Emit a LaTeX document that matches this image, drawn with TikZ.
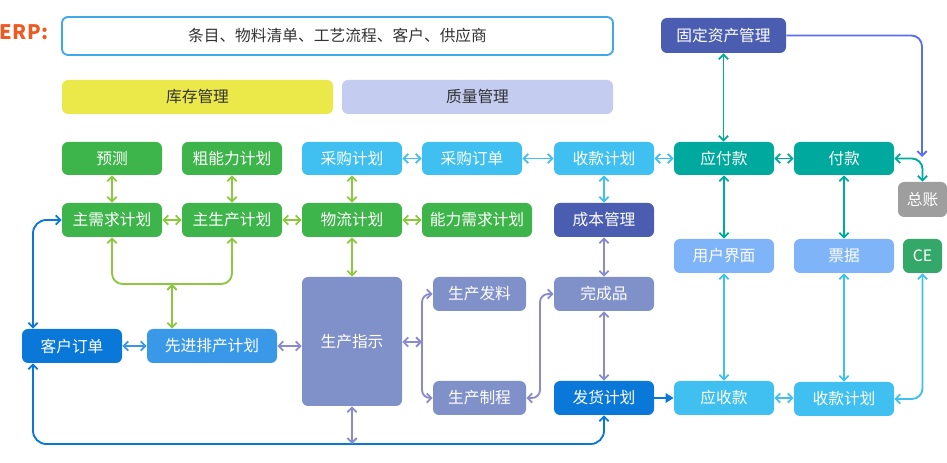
\documentclass[tikz,border=0pt]{standalone}
\usepackage{fontspec}
\setmainfont{Noto Sans CJK SC}
\usetikzlibrary{arrows.meta,calc}
\definecolor{cgreen}{HTML}{3DB54A}
\definecolor{cgreenA}{HTML}{8DC63F}
\definecolor{clblue}{HTML}{3FC0F0}
\definecolor{cteal}{HTML}{00A99D}
\definecolor{cdblue}{HTML}{4A5DB0}
\definecolor{csky}{HTML}{80B4F8}
\definecolor{cce}{HTML}{34A868}
\definecolor{cgray}{HTML}{9E9E9E}
\definecolor{cblue}{HTML}{0A78D8}
\definecolor{cmid}{HTML}{3A98E8}
\definecolor{cpurp}{HTML}{8090C8}
\definecolor{cpurpA}{HTML}{8A8ACC}
\definecolor{cyel}{HTML}{EBE84A}
\definecolor{clav}{HTML}{C4CDF0}
\definecolor{cborder}{HTML}{40A8E8}
\definecolor{cerp}{HTML}{F05A22}
\definecolor{cline}{HTML}{5A6EF0}
\definecolor{ctxt}{HTML}{333333}
\newcommand\bx[7]{\node[box,#6,minimum width={(#4-#2)*0.75pt},minimum height={(#5-#3)*0.75pt}] (#1) at ({(#2+#4)/2},{(#3+#5)/2}) {#7};}
\begin{document}
\begin{tikzpicture}[x=0.75pt,y=-0.75pt,
  box/.style={rounded corners=4.5pt,inner sep=0pt,text=white,font=\fontsize{11.8pt}{13pt}\selectfont},
  con/.style={line width=1.4pt,{Straight Barb[length=3.5pt,width=7pt]}-{Straight Barb[length=3.5pt,width=7pt]}},
  ga/.style={con,draw=cgreenA},
  lba/.style={con,draw=clblue},
  ta/.style={con,draw=cteal},
  pa/.style={con,draw=cpurpA},
  ba/.style={con,draw=cmid},
  bla/.style={con,draw=cblue},
]
\useasboundingbox (0,0) rectangle (947,463);
% header
\node[anchor=west,text=cerp,font=\bfseries\fontsize{15pt}{16pt}\selectfont,inner sep=0pt] (erp) at (-1,32) {E\kern0.6pt R\kern0.6pt P:};
\bx{top}{62}{17}{613}{55}{draw=cborder,line width=1.4pt,fill=white,text=ctxt}{条目、物料清单、工艺流程、客户、供应商}
\bx{kc}{62}{80}{333}{114}{fill=cyel,text=ctxt}{库存管理}
\bx{zl}{342}{80}{613}{114}{fill=clav,text=ctxt}{质量管理}
% row 1
\bx{yc}{62}{142}{162}{175}{fill=cgreen}{预测}
\bx{cnl}{182}{142}{282}{175}{fill=cgreen}{粗能力计划}
\bx{cg}{302}{142}{402}{175}{fill=clblue}{采购计划}
\bx{cd}{422}{142}{522}{175}{fill=clblue}{采购订单}
\bx{skjh}{554}{142}{654}{175}{fill=clblue}{收款计划}
\bx{yf}{674}{142}{774}{175}{fill=cteal}{应付款}
\bx{fk}{794}{142}{894}{175}{fill=cteal}{付款}
\bx{gd}{661}{18}{786}{53}{fill=cdblue}{固定资产管理}
\bx{zz}{898}{182}{947}{217}{fill=cgray}{总账}
% row 2
\bx{mdp}{62}{203}{162}{237}{fill=cgreen}{主需求计划}
\bx{mps}{182}{203}{282}{237}{fill=cgreen}{主生产计划}
\bx{wl}{302}{203}{402}{237}{fill=cgreen}{物流计划}
\bx{nl}{422}{203}{532}{237}{fill=cgreen}{能力需求计划}
\bx{cb}{554}{203}{654}{237}{fill=cdblue}{成本管理}
% row 3
\bx{yh}{674}{239}{774}{273}{fill=csky}{用户界面}
\bx{pj}{794}{239}{894}{273}{fill=csky}{票据}
\bx{ce}{903}{239}{942}{273}{fill=cce}{CE}
% lower
\bx{kd}{22}{329}{122}{363}{fill=cblue}{客户订单}
\bx{xj}{147}{329}{277}{363}{fill=cmid}{先进排产计划}
\bx{zs}{302}{277}{402}{406}{fill=cpurp}{生产指示}
\bx{fl}{433}{277}{526}{311}{fill=cpurp}{生产发料}
\bx{zc}{433}{381}{526}{415}{fill=cpurp}{生产制程}
\bx{wc}{554}{277}{654}{311}{fill=cpurp}{完成品}
\bx{fh}{554}{381}{654}{415}{fill=cblue}{发货计划}
\bx{ys}{674}{381}{774}{415}{fill=clblue}{应收款}
\bx{sk2}{794}{382}{894}{416}{fill=clblue}{收款计划}
% coordinates
\coordinate (j) at (172,284);
\coordinate (br) at (422,342);
\coordinate (m) at (540,340);
\coordinate (lt) at (33,444);
\coordinate (zt) at (922,157);
% green connectors
\draw[ga] (yc.south) -- (mdp.north);
\draw[ga] (cnl.south) -- (mps.north);
\draw[ga] (mdp.east) -- (mps.west);
\draw[ga] (mps.east) -- (wl.west);
\draw[ga] (cg.south) -- (wl.north);
\draw[ga] (wl.east) -- (nl.west);
\draw[ga] (wl.south) -- (zs.north);
\draw[ga,rounded corners=8pt] (mdp.south) |- (j) -| (mps.south);
\draw[ga] (j) -- (j |- xj.north);
% left lower
\draw[ba] (kd.east) -- (xj.west);
\draw[pa] (xj.east) -- (xj.east -| zs.west);
\draw[pa] (zs.east |- br) -- (br);
\draw[pa,rounded corners=6pt] (fl.west) -| (br) |- (zc.west);
\draw[pa,rounded corners=6pt] (zc.east) -| (m) |- (wc.west);
% column 604
\draw[lba] (skjh.south) -- (cb.north);
\draw[pa] (cb.south) -- (wc.north);
\draw[pa] (wc.south) -- (fh.north);
\draw[line width=1.4pt,draw=cblue,-{Triangle[length=6pt,width=7pt]}] (fh.east) -- (ys.west);
\draw[lba] (ys.east) -- (ys.east -| sk2.west);
\draw[lba] (yh.south) -- (ys.north);
\draw[lba] (pj.south) -- (sk2.north);
\draw[lba,rounded corners=8pt] (sk2.east) -| (ce.south);
% row 1 connectors
\draw[lba] (cg.east) -- (cd.west);
\draw[lba] (cd.east) -- (skjh.west);
\draw[lba] (skjh.east) -- (yf.west);
\draw[ta] (yf.east) -- (fk.west);
\draw[ta] (gd.south) -- (gd.south |- yf.north);
\draw[ta] (yf.south) -- (yh.north);
\draw[ta] (fk.south) -- (pj.north);
\draw[ta,rounded corners=8pt] (fk.east) -| (zz.north);
\draw[line width=1.4pt,draw=cline,rounded corners=8pt,-{Straight Barb[length=3.5pt,width=7pt]}] (gd.east) -| (zt);
% big loops
\draw[bla,rounded corners=10pt] (mdp.west) -| (lt |- kd.north);
\draw[bla,rounded corners=10pt] (lt |- kd.south) -- (lt) -- (lt -| fh.south) -- (fh.south);
\draw[pa] (zs.south) -- (zs.south |- lt);
\end{tikzpicture}
\end{document}
